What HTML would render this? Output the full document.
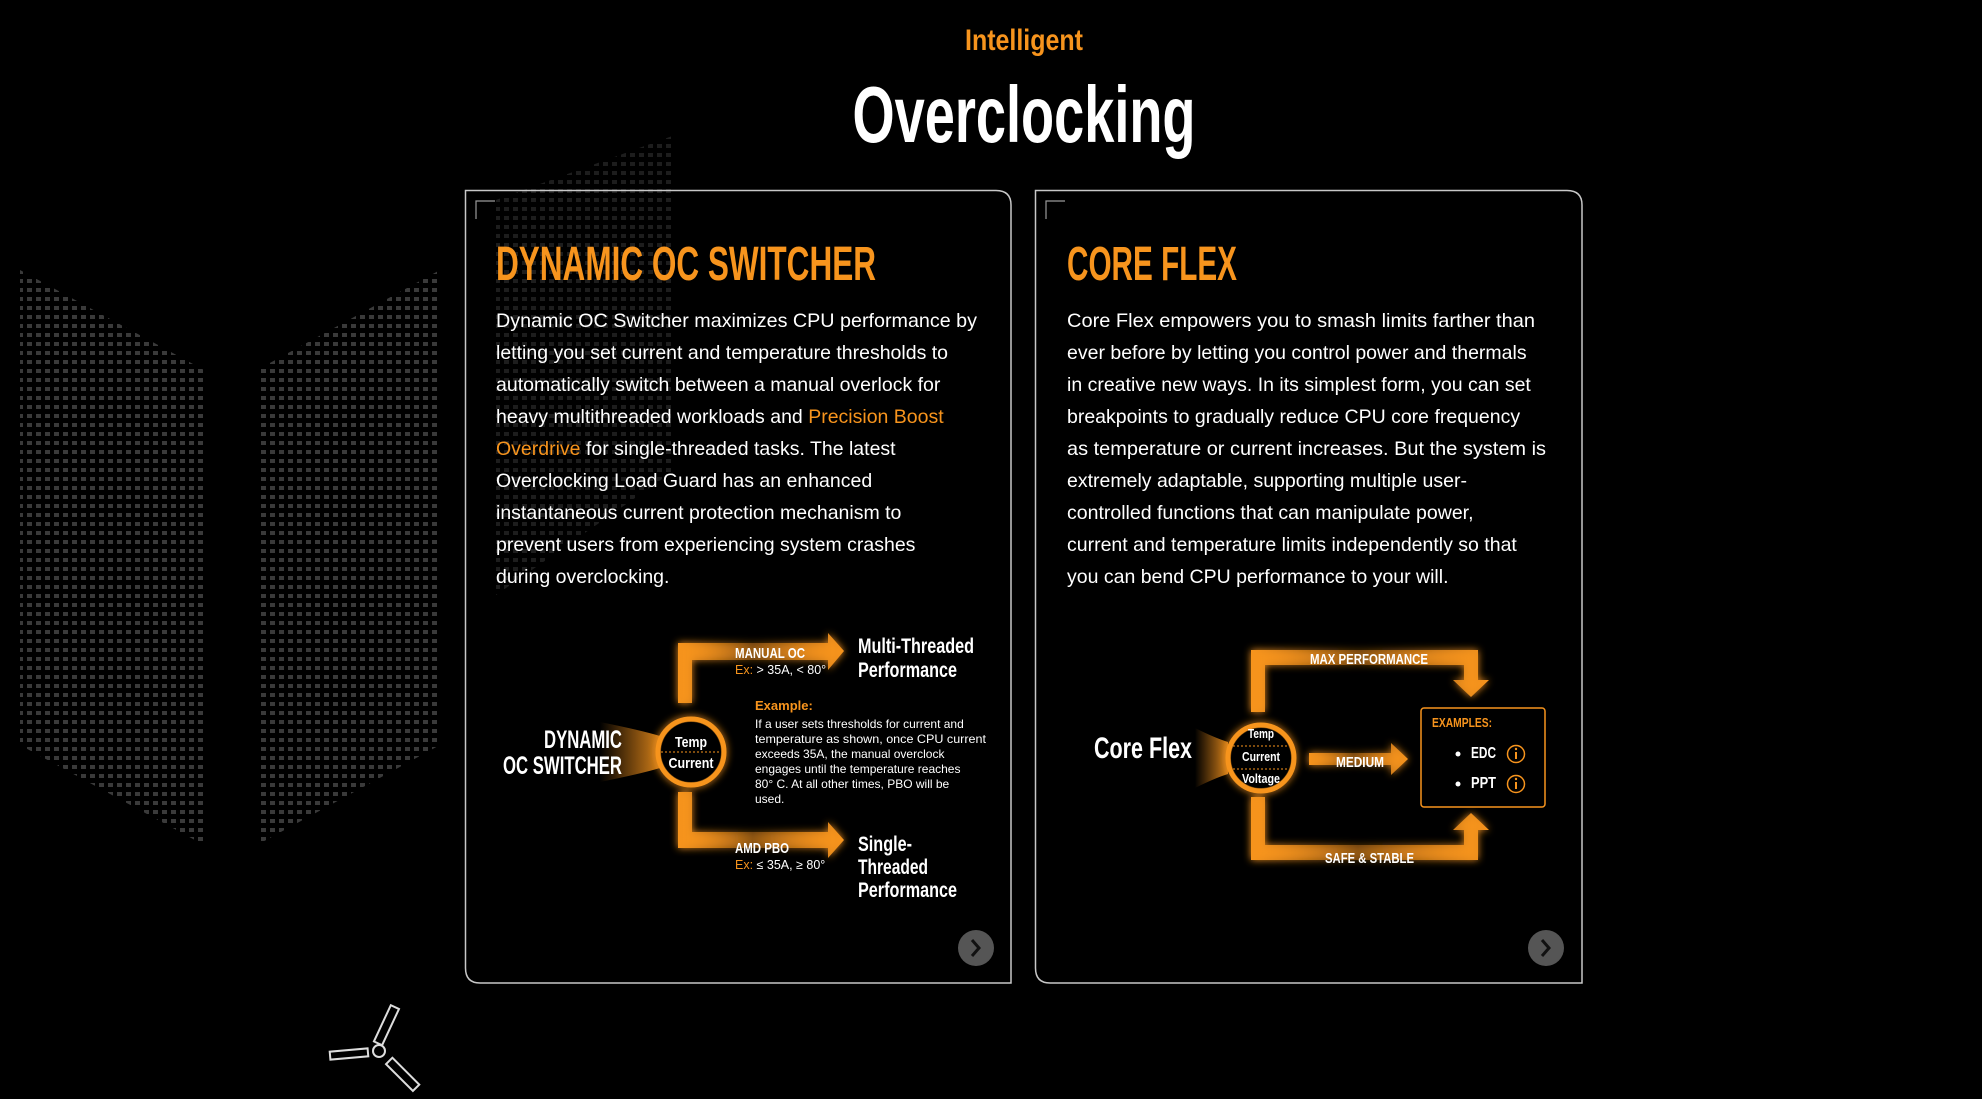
<!DOCTYPE html>
<html><head><meta charset="utf-8"><style>
html,body{margin:0;padding:0;background:#000;width:1982px;height:1099px;overflow:hidden}
svg{display:block}
.c{font-family:"Liberation Sans Narrow","Liberation Sans",sans-serif;font-weight:bold}
.b{font-family:"Liberation Sans",sans-serif;fill:#fff;font-size:19.5px}
</style></head><body>
<svg width="1982" height="1099" viewBox="0 0 1982 1099" xmlns="http://www.w3.org/2000/svg">
<defs>
<pattern id="dots" width="9" height="9" patternUnits="userSpaceOnUse"><rect x="0" y="0" width="5" height="4" fill="#3a3a3a"/></pattern>
<filter id="glow" x="-20%" y="-20%" width="140%" height="140%"><feGaussianBlur stdDeviation="4" result="b"/><feMerge><feMergeNode in="b"/><feMergeNode in="SourceGraphic"/></feMerge></filter>
<linearGradient id="wedge" x1="0" x2="1" y1="0" y2="0"><stop offset="0" stop-color="#f7941d" stop-opacity="0"/><stop offset="1" stop-color="#f7941d" stop-opacity="0.85"/></linearGradient>
<linearGradient id="fadeL" x1="0" x2="1"><stop offset="0" stop-color="#f7941d"/><stop offset="0.45" stop-color="#f7941d" stop-opacity="0.35"/><stop offset="0.75" stop-color="#f7941d" stop-opacity="0.7"/><stop offset="1" stop-color="#f7941d"/></linearGradient>
</defs>
<rect width="1982" height="1099" fill="#000"/>
<polygon points="20,270 204,370 204,845 20,745" fill="url(#dots)"/>
<polygon points="257,370 440,270 440,745 257,845" fill="url(#dots)"/>
<polygon points="496,200 675,135 675,470 496,595" fill="url(#dots)" opacity="0.5"/>
<g stroke="#ddd" stroke-width="2" fill="none">
<rect x="382" y="1005" width="9" height="40" transform="rotate(25 386 1025)"/>
<rect x="330" y="1050" width="38" height="8" transform="rotate(-5 349 1054)"/>
<rect x="384" y="1070" width="38" height="9" transform="rotate(45 403 1074)"/>
<circle cx="379" cy="1051" r="6"/>
</g>
<text x="1024" y="50" text-anchor="middle" class="c" font-size="30" fill="#f7941d" textLength="118" lengthAdjust="spacingAndGlyphs">Intelligent</text>
<text x="1024" y="142" text-anchor="middle" class="c" font-size="80" fill="#fff" textLength="343" lengthAdjust="spacingAndGlyphs">Overclocking</text>
<path d="M465.5,190.5 H996 Q1011,190.5 1011,205 V983 H480 Q465.5,983 465.5,968 Z" fill="none" stroke="#c8c8c8" stroke-width="1.5"/>
<path d="M1035.5,190.5 H1567 Q1582,190.5 1582,205 V983 H1050 Q1035.5,983 1035.5,968 Z" fill="none" stroke="#c8c8c8" stroke-width="1.5"/>
<path d="M476,219 V201 H495" stroke="#999" stroke-width="1.2" fill="none"/>
<path d="M1046,219 V201 H1065" stroke="#999" stroke-width="1.2" fill="none"/>
<text x="496" y="280" class="c" font-size="48" fill="#f7941d" textLength="380" lengthAdjust="spacingAndGlyphs">DYNAMIC OC SWITCHER</text>
<text x="1067" y="280" class="c" font-size="48" fill="#f7941d" textLength="170" lengthAdjust="spacingAndGlyphs">CORE FLEX</text>
<g class="b">
<text x="496" y="327" textLength="481" lengthAdjust="spacingAndGlyphs">Dynamic OC Switcher maximizes CPU performance by</text>
<text x="496" y="359">letting you set current and temperature thresholds to</text>
<text x="496" y="391">automatically switch between a manual overlock for</text>
<text x="496" y="423">heavy multithreaded workloads and <tspan fill="#f7941d">Precision Boost</tspan></text>
<text x="496" y="455"><tspan fill="#f7941d">Overdrive</tspan> for single-threaded tasks. The latest</text>
<text x="496" y="487">Overclocking Load Guard has an enhanced</text>
<text x="496" y="519">instantaneous current protection mechanism to</text>
<text x="496" y="551">prevent users from experiencing system crashes</text>
<text x="496" y="583">during overclocking.</text>
<text x="1067" y="327" textLength="468" lengthAdjust="spacingAndGlyphs">Core Flex empowers you to smash limits farther than</text>
<text x="1067" y="359">ever before by letting you control power and thermals</text>
<text x="1067" y="391">in creative new ways. In its simplest form, you can set</text>
<text x="1067" y="423">breakpoints to gradually reduce CPU core frequency</text>
<text x="1067" y="455" textLength="479" lengthAdjust="spacingAndGlyphs">as temperature or current increases. But the system is</text>
<text x="1067" y="487">extremely adaptable, supporting multiple user-</text>
<text x="1067" y="519">controlled functions that can manipulate power,</text>
<text x="1067" y="551">current and temperature limits independently so that</text>
<text x="1067" y="583">you can bend CPU performance to your will.</text>
</g>
<path d="M600,722 Q640,730 660,736 L660,768 Q640,774 600,782 Z" fill="url(#wedge)"/>
<g filter="url(#glow)">
<path d="M678,703 V643 H828 V633 L844,651 L828,670 V660 H692 V703 Z" fill="url(#fadeL)"/>
<path d="M678,792 V848 H828 V858 L844,840 L828,822 V832 H692 V792 Z" fill="url(#fadeL)"/>
<circle cx="691" cy="752" r="33" fill="none" stroke="#f7941d" stroke-width="5"/>
</g>
<circle cx="691" cy="752" r="30" fill="#000"/>
<line x1="661" y1="752" x2="721" y2="752" stroke="#f7941d" stroke-width="1" stroke-dasharray="2,2"/>
<text x="691" y="747" text-anchor="middle" class="c" font-size="15" fill="#fff" textLength="32" lengthAdjust="spacingAndGlyphs">Temp</text>
<text x="691" y="768" text-anchor="middle" class="c" font-size="15" fill="#fff" textLength="45" lengthAdjust="spacingAndGlyphs">Current</text>
<text x="622" y="748" text-anchor="end" class="c" font-size="25" fill="#fff" textLength="78" lengthAdjust="spacingAndGlyphs">DYNAMIC</text>
<text x="622" y="774" text-anchor="end" class="c" font-size="25" fill="#fff" textLength="119" lengthAdjust="spacingAndGlyphs">OC SWITCHER</text>
<text x="735" y="658" class="c" font-size="15" fill="#fff" textLength="70" lengthAdjust="spacingAndGlyphs">MANUAL OC</text>
<text x="735" y="674" font-family="Liberation Sans,sans-serif" font-size="12.5" fill="#fff"><tspan fill="#f7941d">Ex:</tspan> &gt; 35A, &lt; 80°</text>
<text x="735" y="853" class="c" font-size="15" fill="#fff" textLength="54" lengthAdjust="spacingAndGlyphs">AMD PBO</text>
<text x="735" y="869" font-family="Liberation Sans,sans-serif" font-size="12.5" fill="#fff"><tspan fill="#f7941d">Ex:</tspan> ≤ 35A, ≥ 80°</text>
<g class="c" font-size="21" fill="#fff">
<text x="858" y="653" textLength="116" lengthAdjust="spacingAndGlyphs">Multi-Threaded</text>
<text x="858" y="677" textLength="99" lengthAdjust="spacingAndGlyphs">Performance</text>
<text x="858" y="851" textLength="54" lengthAdjust="spacingAndGlyphs">Single-</text>
<text x="858" y="874" textLength="70" lengthAdjust="spacingAndGlyphs">Threaded</text>
<text x="858" y="897" textLength="99" lengthAdjust="spacingAndGlyphs">Performance</text>
</g>
<text x="755" y="710" class="c" font-size="13" fill="#f7941d">Example:</text>
<g font-family="Liberation Sans,sans-serif" font-size="12" fill="#fff">
<text x="755" y="728">If a user sets thresholds for current and</text>
<text x="755" y="743" textLength="231" lengthAdjust="spacingAndGlyphs">temperature as shown, once CPU current</text>
<text x="755" y="758">exceeds 35A, the manual overclock</text>
<text x="755" y="773">engages until the temperature reaches</text>
<text x="755" y="788">80° C. At all other times, PBO will be</text>
<text x="755" y="803">used.</text>
</g>
<circle cx="976" cy="948" r="18" fill="#555"/>
<path d="M972,940 L979,948 L972,956" stroke="#111" stroke-width="3" fill="none"/>
<path d="M1195,728 Q1215,738 1228,742 L1228,774 Q1215,778 1195,788 Z" fill="url(#wedge)"/>
<g filter="url(#glow)">
<path d="M1251,712 V650 H1478 V680 H1489 L1471,697 L1453,680 H1464 V665 H1265 V712 Z" fill="url(#fadeL)"/>
<path d="M1251,797 V860 H1478 V830 H1489 L1471,813 L1453,830 H1464 V845 H1265 V797 Z" fill="url(#fadeL)"/>
<path d="M1309,753 H1391 V743 L1408,759 L1391,775 V765 H1309 Z" fill="url(#fadeL)"/>
<circle cx="1261" cy="758" r="33" fill="none" stroke="#f7941d" stroke-width="5"/>
</g>
<circle cx="1261" cy="758" r="30" fill="#000"/>
<line x1="1233" y1="746" x2="1289" y2="746" stroke="#f7941d" stroke-width="1" stroke-dasharray="2,2"/>
<line x1="1233" y1="769" x2="1289" y2="769" stroke="#f7941d" stroke-width="1" stroke-dasharray="2,2"/>
<g class="c" font-size="13" fill="#fff" text-anchor="middle">
<text x="1261" y="738" textLength="26" lengthAdjust="spacingAndGlyphs">Temp</text><text x="1261" y="761" textLength="38" lengthAdjust="spacingAndGlyphs">Current</text><text x="1261" y="783" textLength="38" lengthAdjust="spacingAndGlyphs">Voltage</text>
</g>
<text x="1192" y="758" text-anchor="end" class="c" font-size="30" fill="#fff" textLength="98" lengthAdjust="spacingAndGlyphs">Core Flex</text>
<text x="1310" y="664" class="c" font-size="15" fill="#fff" textLength="118" lengthAdjust="spacingAndGlyphs">MAX PERFORMANCE</text>
<text x="1325" y="863" class="c" font-size="15" fill="#fff" textLength="89" lengthAdjust="spacingAndGlyphs">SAFE &amp; STABLE</text>
<text x="1336" y="767" class="c" font-size="15" fill="#fff" textLength="48" lengthAdjust="spacingAndGlyphs">MEDIUM</text>
<rect x="1421" y="708" width="124" height="99" rx="3" fill="#000" stroke="#f7941d" stroke-width="1.5"/>
<text x="1432" y="727" class="c" font-size="12.5" fill="#f7941d" textLength="60" lengthAdjust="spacingAndGlyphs">EXAMPLES:</text>
<circle cx="1458" cy="754" r="2.5" fill="#fff"/><circle cx="1458" cy="784" r="2.5" fill="#fff"/>
<text x="1471" y="758" class="c" font-size="16" fill="#fff" textLength="25" lengthAdjust="spacingAndGlyphs">EDC</text>
<text x="1471" y="788" class="c" font-size="16" fill="#fff" textLength="25" lengthAdjust="spacingAndGlyphs">PPT</text>
<g stroke="#f7941d" stroke-width="1.5" fill="none"><circle cx="1516" cy="754" r="8.5"/><circle cx="1516" cy="784" r="8.5"/></g>
<g fill="#f7941d"><rect x="1515" y="752" width="2" height="7"/><circle cx="1516" cy="749" r="1.2"/><rect x="1515" y="782" width="2" height="7"/><circle cx="1516" cy="779" r="1.2"/></g>
<circle cx="1546" cy="948" r="18" fill="#555"/>
<path d="M1542,940 L1549,948 L1542,956" stroke="#111" stroke-width="3" fill="none"/>
</svg>
</body></html>
